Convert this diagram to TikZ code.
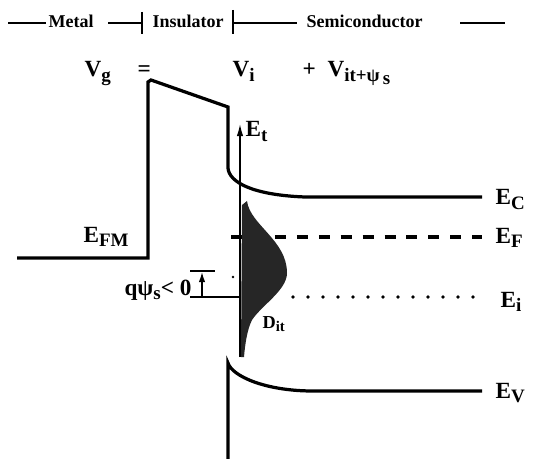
\documentclass[tikz,border=0pt]{standalone}
\usepackage{fontspec}
\setmainfont{Liberation Serif}
\usetikzlibrary{arrows.meta}
\newcommand{\lsub}[1]{\raisebox{-0.45ex}{\fontsize{13.5}{14}\selectfont #1}}
\begin{document}
\begin{tikzpicture}[x=0.025cm,y=-0.025cm,line width=0.8pt,>={Latex[length=3mm,width=1.6mm]},
  band/.style={line width=2.3pt},
  lbl/.style={font=\fontsize{16.5}{18}\selectfont\bfseries,inner sep=0pt,anchor=base west},
  hdr/.style={font=\fontsize{12.8}{14}\selectfont\bfseries,inner sep=0pt,anchor=base west}]
  \useasboundingbox (0,0) rectangle (539,459);
  % encabezado
  \draw (8,23)--(46,23) (108,23)--(141,23) (234,23)--(297,23) (460,23)--(505,23);
  \draw[line width=1.3pt] (142,12)--(142,34) (233,10)--(233,34);
  \node[hdr] (metal) at (48,28) {Metal};
  \node[hdr] (ins) at (152,28) {Insulator};
  \node[hdr] (semi) at (306,28) {Semiconductor};
  % ecuacion
  \node[lbl] (vg) at (84,77) {V\lsub{g}};
  \node[lbl] (eq) at (137,77) {=};
  \node[lbl] (vi) at (232,77) {V\lsub{i}};
  \node[lbl] (plus) at (302,77) {+};
  \node[lbl] (vit) at (327,77) {V\lsub{it+ψ\,\raisebox{-0.3ex}{s}}};
  % bandas
  \draw[band] (17,258)--(148,258)--(148,82)--(151,80)--(228,107)--(228,168)
    .. controls (229,182) and (252,195) .. (305,197) -- (482,197);
  \draw[band] (228,459)--(228,363) .. controls (232,376) and (265,391) .. (313,391) -- (482,391);
  % niveles
  \draw[band,dash pattern=on 7.8pt off 7.8pt] (231,237)--(482,237);
  \foreach \x in {293,308,...,482} \fill (\x,297) circle (1.8);
  \fill (233,277) circle (1.4);
  % densidad de estados
  \fill[black!85] (242,205) -- (247,201) .. controls (250,225) and (287,240) .. (287,273)
    .. controls (287,290) and (262,305) .. (252,320)
    .. controls (247,330) and (245,345) .. (244,357) -- (241,357) -- cycle;
  \draw[line width=1pt,->] (240,357)--(240,124);
  % potencial de superficie
  \draw[line width=1pt] (190,271)--(215,271) (190,297)--(240,297);
  \draw[line width=1pt,-{Latex[length=2.5mm,width=1.6mm]}] (202,297)--(202,272);
  % etiquetas
  \node[lbl] (et) at (245,137) {E\lsub{t}};
  \node[lbl] (efm) at (83,242) {E\lsub{FM}};
  \node[lbl] (ec) at (495,205) {E\lsub{C}};
  \node[lbl] (ef) at (495,243) {E\lsub{F}};
  \node[lbl] (ei) at (500,307) {E\lsub{i}};
  \node[lbl] (ev) at (495,398) {E\lsub{V}};
  \node[lbl,anchor=base east] (qps) at (192,295) {qψ\lsub{s}< 0};
  \node[lbl,font=\fontsize{13}{14}\selectfont\bfseries] (dit) at (262,328) {D\lsub{\fontsize{10.5}{11}\selectfont it}};
\end{tikzpicture}
\end{document}
